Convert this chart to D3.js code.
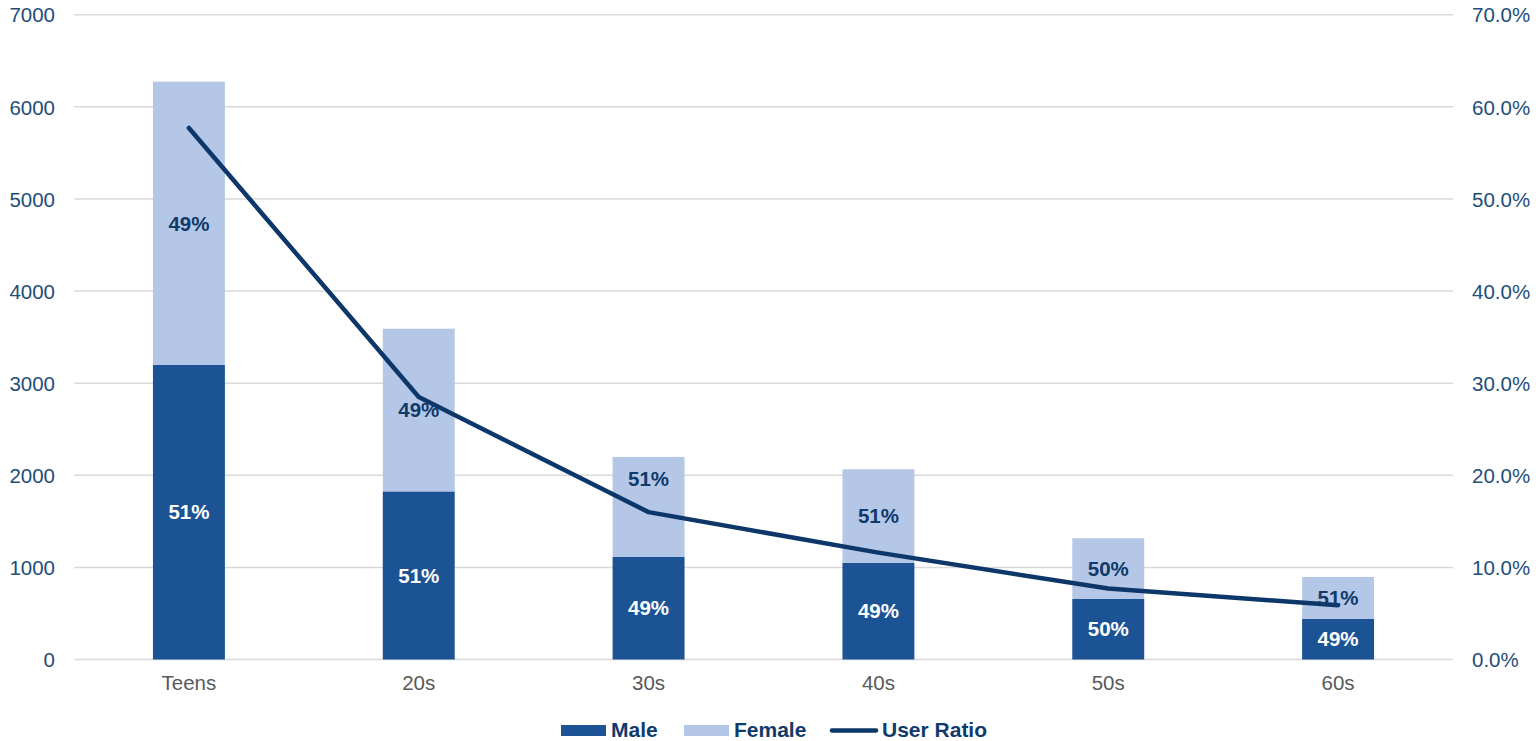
<!DOCTYPE html>
<html>
<head>
<meta charset="utf-8">
<script src="https://cdn.jsdelivr.net/npm/d3@7"></script>
<style>
  html, body { margin: 0; padding: 0; background: #fff; }
  svg { display: block; font-family: "Liberation Sans", Arial, sans-serif; }
</style>
</head>
<body>
<svg width="1536" height="741"></svg>
<script>
const categories = ['Teens', '20s', '30s', '40s', '50s', '60s'];
const maleValues = [3197, 1825, 1116, 1048, 657, 440];
const femaleValues = [3076, 1766, 1083, 1017, 659, 456];
const maleLabels = ['51%', '51%', '49%', '49%', '50%', '49%'];
const femaleLabels = ['49%', '49%', '51%', '51%', '50%', '51%'];
const userRatio = [0.577, 0.285, 0.160, 0.116, 0.077, 0.059];
const leftTicks = [0, 1000, 2000, 3000, 4000, 5000, 6000, 7000];
const rightTicks = [0, 0.1, 0.2, 0.3, 0.4, 0.5, 0.6, 0.7];

const maleColor = '#1c5394';
const femaleColor = '#b4c7e7';
const lineColor = '#0c3768';
const axisText = '#1f4e79';

const svg = d3.select('svg');
const plotLeft = 74;
const plotRight = 1453;
const plotTop = 14.7;
const plotBottom = 659.5;

const x = d3.scaleBand()
  .domain(categories)
  .range([plotLeft, plotRight])
  .paddingInner(0.687)
  .paddingOuter(0.3435);

const y = d3.scaleLinear().domain([0, 7000]).range([plotBottom, plotTop]);
const y2 = d3.scaleLinear().domain([0, 0.7]).range([plotBottom, plotTop]);

// gridlines
svg.append('g')
  .selectAll('line')
  .data(leftTicks)
  .enter()
  .append('line')
  .attr('x1', plotLeft)
  .attr('x2', plotRight)
  .attr('y1', (d) => y(d))
  .attr('y2', (d) => y(d))
  .attr('stroke', '#d9d9d9')
  .attr('stroke-width', 1.5);

// left axis
const leftAxis = svg.append('g')
  .attr('transform', `translate(${plotLeft},0)`)
  .call(d3.axisLeft(y).tickValues(leftTicks).tickSize(0).tickPadding(19).tickFormat(d3.format('d')));
leftAxis.select('.domain').remove();
leftAxis.selectAll('text')
  .attr('fill', axisText)
  .style('font-size', '20.5px')
  .attr('dy', '0.35em');

// right axis
const rightAxis = svg.append('g')
  .attr('transform', `translate(${plotRight},0)`)
  .call(d3.axisRight(y2).tickValues(rightTicks).tickSize(0).tickPadding(19).tickFormat(d3.format('.1%')));
rightAxis.select('.domain').remove();
rightAxis.selectAll('text')
  .attr('fill', axisText)
  .style('font-size', '20.5px')
  .attr('dy', '0.35em');

// bottom axis
const bottomAxis = svg.append('g')
  .attr('transform', `translate(0,${plotBottom})`)
  .call(d3.axisBottom(x).tickSize(0).tickPadding(16));
bottomAxis.select('.domain').remove();
bottomAxis.selectAll('text')
  .attr('fill', '#595959')
  .style('font-size', '20.5px');

// stacked bars
const rows = categories.map((c, i) => ({
  cat: c,
  male: maleValues[i],
  female: femaleValues[i],
  ratio: userRatio[i],
  maleLabel: maleLabels[i],
  femaleLabel: femaleLabels[i],
}));

const bars = svg.append('g');

bars.selectAll('rect.male')
  .data(rows)
  .enter()
  .append('rect')
  .attr('class', 'male')
  .attr('x', (d) => x(d.cat))
  .attr('width', x.bandwidth())
  .attr('y', (d) => y(d.male))
  .attr('height', (d) => y(0) - y(d.male))
  .attr('fill', maleColor);

bars.selectAll('rect.female')
  .data(rows)
  .enter()
  .append('rect')
  .attr('class', 'female')
  .attr('x', (d) => x(d.cat))
  .attr('width', x.bandwidth())
  .attr('y', (d) => y(d.male + d.female))
  .attr('height', (d) => y(d.male) - y(d.male + d.female))
  .attr('fill', femaleColor);

// line
const line = d3.line()
  .x((d, i) => x(categories[i]) + x.bandwidth() / 2)
  .y((d) => y2(d));

svg.append('path')
  .datum(userRatio)
  .attr('d', line)
  .attr('fill', 'none')
  .attr('stroke', lineColor)
  .attr('stroke-width', 4.5)
  .attr('stroke-linejoin', 'round')
  .attr('stroke-linecap', 'round');

// data labels
const labels = svg.append('g')
  .style('font-size', '20.5px')
  .style('font-weight', 'bold')
  .attr('text-anchor', 'middle');

labels.selectAll('text.male')
  .data(rows)
  .enter()
  .append('text')
  .attr('class', 'male')
  .attr('x', (d) => x(d.cat) + x.bandwidth() / 2)
  .attr('y', (d) => (y(0) + y(d.male)) / 2)
  .attr('dy', '0.35em')
  .attr('fill', '#ffffff')
  .text((d) => d.maleLabel);

// female label sits mid-segment, except 30s where it was nudged up off the line
function femaleLabelY(d) {
  const segTop = y(d.male + d.female);
  const mid = (y(d.male) + segTop) / 2;
  if (d.cat === '30s') return segTop + 22;
  return mid;
}

labels.selectAll('text.female')
  .data(rows)
  .enter()
  .append('text')
  .attr('class', 'female')
  .attr('x', (d) => x(d.cat) + x.bandwidth() / 2)
  .attr('y', femaleLabelY)
  .attr('dy', '0.35em')
  .attr('fill', '#0f3a6b')
  .text((d) => d.femaleLabel);

// legend
const legend = svg.append('g')
  .style('font-size', '21px')
  .style('font-weight', 'bold');

legend.append('rect')
  .attr('x', 561).attr('y', 725).attr('width', 45).attr('height', 11)
  .attr('fill', maleColor);
legend.append('text')
  .attr('x', 611).attr('y', 737)
  .attr('fill', '#0f3a6b')
  .text('Male');

legend.append('rect')
  .attr('x', 684).attr('y', 725).attr('width', 45).attr('height', 11)
  .attr('fill', femaleColor);
legend.append('text')
  .attr('x', 734).attr('y', 737)
  .attr('fill', '#0f3a6b')
  .text('Female');

legend.append('line')
  .attr('x1', 832).attr('x2', 876).attr('y1', 730.5).attr('y2', 730.5)
  .attr('stroke', lineColor)
  .attr('stroke-width', 4.5)
  .attr('stroke-linecap', 'round');
legend.append('text')
  .attr('x', 882).attr('y', 737)
  .attr('fill', '#0f3a6b')
  .text('User Ratio');
</script>
</body>
</html>
